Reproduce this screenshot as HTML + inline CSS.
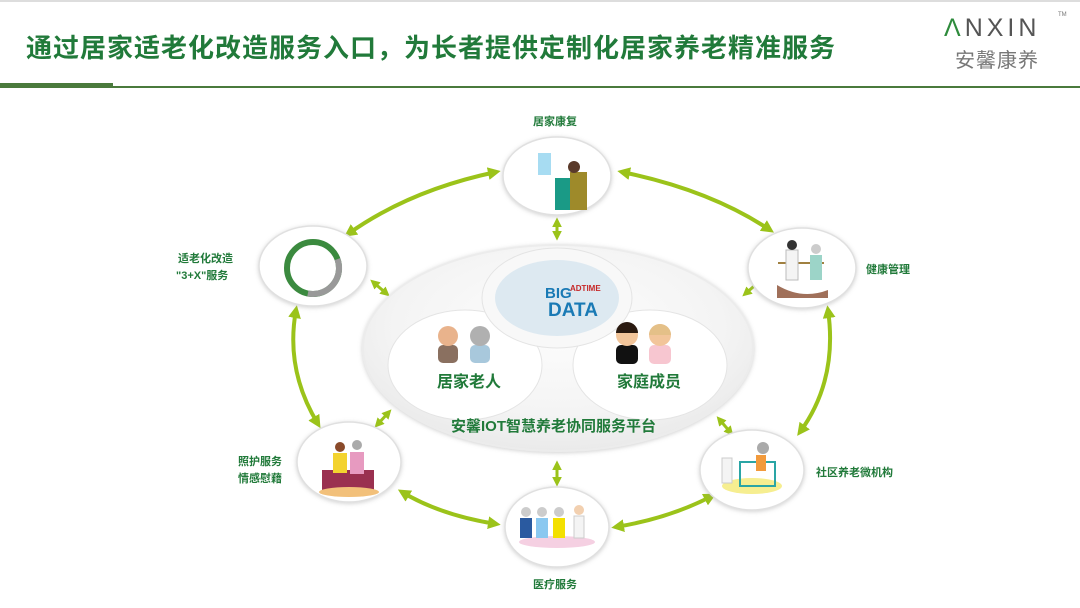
<!DOCTYPE html>
<html><head><meta charset="utf-8">
<style>
html,body{margin:0;padding:0;background:#fff;}
body{width:1080px;height:608px;position:relative;overflow:hidden;font-family:"Liberation Sans","Noto Sans CJK SC",sans-serif;}
.t{position:absolute;white-space:nowrap;}
</style></head><body>
<div style="position:absolute;left:0;top:0;width:1080px;height:2px;background:#ddd"></div>
<div class="t" style="left:26px;top:28px;font-size:26px;font-weight:bold;color:#217a3a;letter-spacing:1px">通过居家适老化改造服务入口，为长者提供定制化居家养老精准服务</div>
<div class="t" style="left:944px;top:14px;font-size:25px;color:#555;letter-spacing:4px"><span style="color:#2e8b3c">Λ</span>NXIN</div>
<div class="t" style="left:1058px;top:12px;font-size:6px;color:#777">TM</div>
<div class="t" style="left:955px;top:44px;font-size:20px;color:#777;letter-spacing:1px">安馨康养</div>
<div style="position:absolute;left:0;top:86px;width:1080px;height:2px;background:#4a7a3c"></div>
<div style="position:absolute;left:0;top:83px;width:113px;height:5px;background:#4a7a3c"></div>
<svg width="1080" height="608" style="position:absolute;left:0;top:0">
<defs>
<marker id="a" markerWidth="3.2" markerHeight="3.2" refX="2" refY="1.6" orient="auto-start-reverse" markerUnits="strokeWidth"><path d="M0,0 L3.2,1.6 L0,3.2 z" fill="#9bc31a"/></marker>
<radialGradient id="g" cx="50%" cy="40%" r="60%"><stop offset="0" stop-color="#fdfdfd"/><stop offset="0.7" stop-color="#f4f4f4"/><stop offset="1" stop-color="#eaeaea"/></radialGradient>
<filter id="s"><feDropShadow dx="0" dy="1" stdDeviation="2" flood-color="#999" flood-opacity="0.45"/></filter>
</defs>
<g fill="none" stroke="#9bc31a" stroke-width="4" marker-start="url(#a)" marker-end="url(#a)">
<path d="M496,172 Q410,190 348,234"/>
<path d="M622,172 Q710,190 770,230"/>
<path d="M296,310 Q285,370 318,424"/>
<path d="M828,310 Q838,380 800,432"/>
<path d="M402,492 Q440,515 496,524"/>
<path d="M616,527 Q670,518 712,496"/>
</g>
<g fill="none" stroke="#9bc31a" stroke-width="3" marker-start="url(#a)" marker-end="url(#a)">
<path d="M557,221 L557,237"/>
<path d="M373,282 L387,294"/>
<path d="M745,294 L760,281"/>
<path d="M377,425 L389,412"/>
<path d="M719,419 L731,433"/>
<path d="M557,464 L557,483"/>
</g>
<ellipse cx="558" cy="348" rx="195" ry="103" fill="url(#g)" stroke="#ececec" stroke-width="2" filter="url(#s)"/>
<ellipse cx="465" cy="365" rx="77" ry="55" fill="#fff" stroke="#e4e4e4"/>
<ellipse cx="650" cy="365" rx="77" ry="55" fill="#fff" stroke="#e4e4e4"/>
<ellipse cx="557" cy="298" rx="75" ry="50" fill="#f8f8f8" stroke="#e4e4e4"/>
<ellipse cx="557" cy="298" rx="62" ry="38" fill="#dde9f1"/>
<text x="545" y="298" font-size="15" font-weight="bold" fill="#1a7ab5" font-family="Liberation Sans">BIG</text>
<text x="548" y="316" font-size="19" font-weight="bold" fill="#1a7ab5" font-family="Liberation Sans">DATA</text>
<text x="570" y="291" font-size="8" font-weight="bold" fill="#c62828" font-family="Liberation Sans">ADTIME</text>
<g fill="#fff" stroke="#e0e0e0" stroke-width="1.5" filter="url(#s)">
<ellipse cx="557" cy="176" rx="54" ry="39"/>
<ellipse cx="313" cy="266" rx="54" ry="40"/>
<ellipse cx="802" cy="268" rx="54" ry="40"/>
<ellipse cx="349" cy="462" rx="52" ry="40"/>
<ellipse cx="752" cy="470" rx="52" ry="40"/>
<ellipse cx="557" cy="527" rx="52" ry="40"/>
</g>
<rect x="538" y="153" width="13" height="22" fill="#a7dcf2"/>
<rect x="555" y="178" width="18" height="32" fill="#1a9a86"/><rect x="570" y="172" width="17" height="38" fill="#9e8a2a"/><circle cx="574" cy="167" r="6" fill="#5a3a2a"/>
<circle cx="313" cy="268" r="26" fill="none" stroke="#3b8a3f" stroke-width="6"/><circle cx="313" cy="268" r="26" fill="none" stroke="#999" stroke-width="6" stroke-dasharray="55 200" transform="rotate(-20 313 268)"/>
<rect x="778" y="262" width="46" height="2" fill="#a08040"/><rect x="786" y="250" width="12" height="30" fill="#f4f4f4" stroke="#bbb"/><rect x="810" y="255" width="12" height="25" fill="#9cd4c8"/><circle cx="792" cy="245" r="5" fill="#333"/><circle cx="816" cy="249" r="5" fill="#ccc"/>
<path d="M777,285 Q802,300 828,290 L828,298 L777,298z" fill="#a0705a"/>
<rect x="322" y="470" width="52" height="20" fill="#9a3050"/><ellipse cx="349" cy="492" rx="30" ry="5" fill="#f2c07a"/><rect x="333" y="453" width="14" height="20" fill="#f3d32f"/><rect x="350" y="452" width="14" height="22" fill="#e79ac0"/><circle cx="340" cy="447" r="5" fill="#8a4a2a"/><circle cx="357" cy="445" r="5" fill="#aaa"/>
<ellipse cx="752" cy="486" rx="30" ry="8" fill="#f6ee90"/><rect x="740" y="462" width="35" height="24" fill="none" stroke="#2aa5a5" stroke-width="2"/><rect x="722" y="458" width="10" height="25" fill="#f4f4f4" stroke="#ccc"/><rect x="756" y="455" width="10" height="16" fill="#f29a3c"/><circle cx="763" cy="448" r="6" fill="#aaa"/>
<ellipse cx="557" cy="542" rx="38" ry="6" fill="#f5d0e2"/><rect x="520" y="518" width="12" height="20" fill="#2a5aa0"/><rect x="536" y="518" width="12" height="20" fill="#8ac8f0"/><rect x="553" y="518" width="12" height="20" fill="#f3e000"/><rect x="574" y="516" width="10" height="22" fill="#f4f4f4" stroke="#ccc"/>
<circle cx="526" cy="512" r="5" fill="#ccc"/><circle cx="542" cy="512" r="5" fill="#ccc"/><circle cx="559" cy="512" r="5" fill="#ccc"/><circle cx="579" cy="510" r="5" fill="#f2d0b0"/>
<rect x="438" y="345" width="20" height="18" rx="5" fill="#8a7060"/><circle cx="448" cy="336" r="10" fill="#e9b38c"/>
<rect x="470" y="345" width="20" height="18" rx="5" fill="#a8c8dc"/><circle cx="480" cy="336" r="10" fill="#b0b0b0"/>
<rect x="616" y="345" width="22" height="19" rx="5" fill="#111"/><circle cx="627" cy="335" r="11" fill="#f2c59a"/><path d="M616,333 a11,11 0 0 1 22,0z" fill="#2a1a10"/>
<rect x="649" y="345" width="22" height="19" rx="5" fill="#f7c6d0"/><circle cx="660" cy="335" r="11" fill="#f2c59a"/><path d="M649,335 a11,11 0 0 1 22,0z" fill="#e4c088"/>
</svg>
<div class="t" style="left:437px;top:368px;font-size:16px;font-weight:bold;color:#217a3a">居家老人</div>
<div class="t" style="left:617px;top:368px;font-size:16px;font-weight:bold;color:#217a3a">家庭成员</div>
<div class="t" style="left:451px;top:415px;font-size:15px;font-weight:bold;color:#217a3a">安馨IOT智慧养老协同服务平台</div>
<div class="t" style="left:533px;top:113px;font-size:11px;font-weight:bold;color:#217a3a">居家康复</div>
<div class="t" style="left:178px;top:250px;font-size:11px;font-weight:bold;color:#217a3a">适老化改造</div>
<div class="t" style="left:176px;top:267px;font-size:11px;font-weight:bold;color:#217a3a">"3+X"服务</div>
<div class="t" style="left:866px;top:261px;font-size:11px;font-weight:bold;color:#217a3a">健康管理</div>
<div class="t" style="left:238px;top:453px;font-size:11px;font-weight:bold;color:#217a3a">照护服务</div>
<div class="t" style="left:238px;top:470px;font-size:11px;font-weight:bold;color:#217a3a">情感慰藉</div>
<div class="t" style="left:816px;top:464px;font-size:11px;font-weight:bold;color:#217a3a">社区养老微机构</div>
<div class="t" style="left:533px;top:576px;font-size:11px;font-weight:bold;color:#217a3a">医疗服务</div>
</body></html>
